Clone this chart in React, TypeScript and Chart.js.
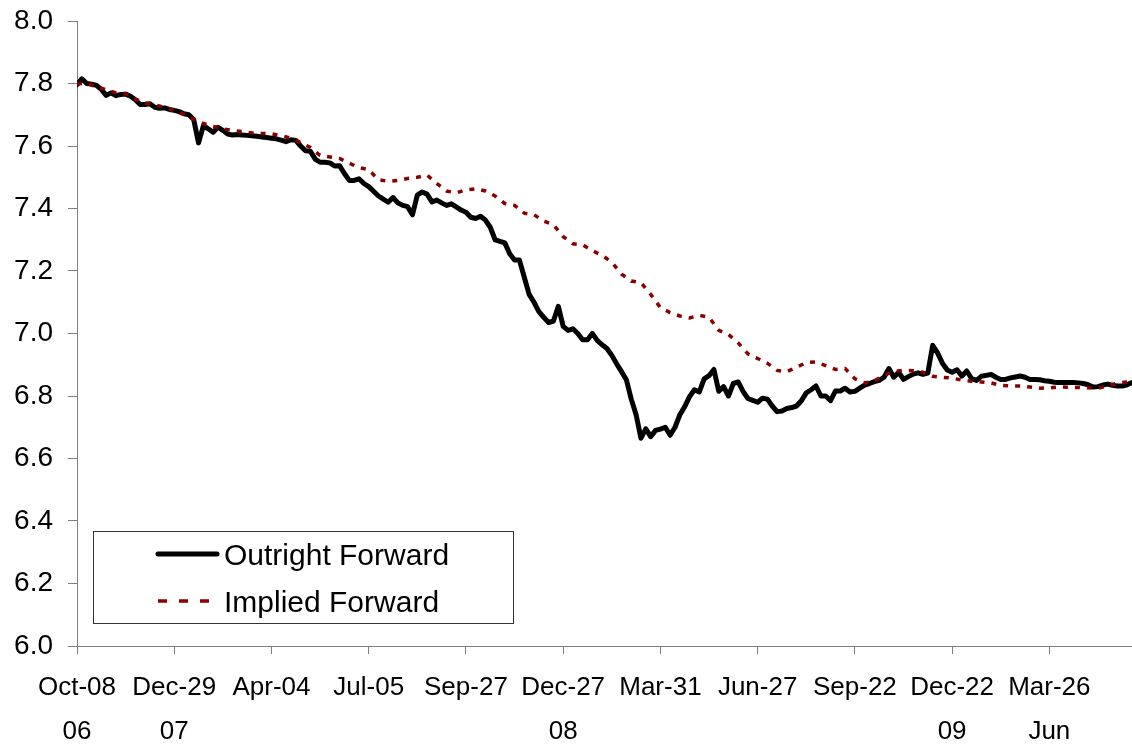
import React, { useEffect, useRef } from 'react';
import { Chart, registerables } from 'chart.js';

Chart.register(...registerables);

// Trading-day index spacing of the sampled values
const OUTRIGHT_STEP = 3;
const IMPLIED_STEP = 6;
const LAST_DAY = 651;

const tickDays = [0, 60, 120, 180, 240, 300, 360, 420, 480, 540, 600];
const tickDates = ['Oct-08', 'Dec-29', 'Apr-04', 'Jul-05', 'Sep-27', 'Dec-27', 'Mar-31', 'Jun-27', 'Sep-22', 'Dec-22', 'Mar-26'];
const tickYears = ['06', '07', '', '', '', '08', '', '', '', '09', 'Jun'];

const seriesNames = ['Outright Forward', 'Implied Forward'];

const outright = [
  7.796, 7.815, 7.800, 7.798, 7.794, 7.781, 7.762, 7.770, 7.761, 7.765,
  7.766, 7.759, 7.748, 7.733, 7.733, 7.735, 7.724, 7.721, 7.722, 7.717,
  7.714, 7.710, 7.703, 7.700, 7.685, 7.610, 7.665, 7.655, 7.644, 7.660,
  7.650, 7.638, 7.635, 7.637, 7.635, 7.634, 7.633, 7.631, 7.629, 7.627,
  7.625, 7.623, 7.619, 7.614, 7.620, 7.618, 7.600, 7.585, 7.583, 7.558,
  7.548, 7.548, 7.546, 7.536, 7.537, 7.512, 7.490, 7.490, 7.495, 7.480,
  7.470, 7.455, 7.440, 7.430, 7.420, 7.435, 7.418, 7.410, 7.406, 7.380,
  7.443, 7.453, 7.446, 7.421, 7.427, 7.418, 7.410, 7.415, 7.405, 7.395,
  7.388, 7.372, 7.368, 7.375, 7.363, 7.340, 7.300, 7.295, 7.290, 7.255,
  7.235, 7.235, 7.180, 7.125, 7.100, 7.070, 7.052, 7.035, 7.040, 7.087,
  7.023, 7.010, 7.015, 7.000, 6.980, 6.980, 7.000, 6.978, 6.964, 6.952,
  6.930, 6.903, 6.878, 6.852, 6.790, 6.740, 6.665, 6.695, 6.670, 6.690,
  6.694, 6.700, 6.675, 6.700, 6.740, 6.766, 6.798, 6.820, 6.813, 6.855,
  6.865, 6.885, 6.815, 6.830, 6.800, 6.840, 6.845, 6.815, 6.792, 6.786,
  6.780, 6.793, 6.790, 6.768, 6.750, 6.752, 6.760, 6.763, 6.768, 6.785,
  6.810, 6.820, 6.832, 6.800, 6.800, 6.785, 6.816, 6.816, 6.825, 6.813,
  6.815, 6.825, 6.835, 6.840, 6.846, 6.850, 6.860, 6.888, 6.860, 6.876,
  6.853, 6.862, 6.870, 6.874, 6.869, 6.873, 6.962, 6.938, 6.905, 6.883,
  6.876, 6.884, 6.864, 6.880, 6.856, 6.850, 6.863, 6.866, 6.869, 6.860,
  6.853, 6.853, 6.858, 6.861, 6.864, 6.860, 6.853, 6.853, 6.852, 6.849,
  6.847, 6.844, 6.843, 6.843, 6.843, 6.843, 6.842, 6.840, 6.836, 6.829,
  6.830, 6.835, 6.838, 6.834, 6.832, 6.832, 6.836, 6.843,
];

const implied = [
  7.800, 7.800, 7.790, 7.780, 7.770, 7.767, 7.750, 7.738, 7.732, 7.724,
  7.714, 7.702, 7.685, 7.672, 7.663, 7.655, 7.650, 7.646, 7.642, 7.640,
  7.639, 7.633, 7.625, 7.611, 7.595, 7.570, 7.565, 7.560, 7.545, 7.531,
  7.524, 7.492, 7.487, 7.490, 7.496, 7.500, 7.507, 7.480, 7.456, 7.450,
  7.460, 7.463, 7.456, 7.440, 7.416, 7.410, 7.385, 7.380, 7.360, 7.348,
  7.310, 7.287, 7.284, 7.265, 7.250, 7.228, 7.190, 7.168, 7.163, 7.125,
  7.083, 7.067, 7.056, 7.050, 7.058, 7.052, 7.010, 6.997, 6.970, 6.935,
  6.920, 6.905, 6.882, 6.878, 6.892, 6.907, 6.909, 6.897, 6.885, 6.888,
  6.855, 6.842, 6.848, 6.867, 6.878, 6.882, 6.881, 6.876, 6.863, 6.860,
  6.857, 6.851, 6.847, 6.845, 6.842, 6.834, 6.832, 6.832, 6.829, 6.825,
  6.826, 6.829, 6.828, 6.827, 6.826, 6.825, 6.833, 6.841, 6.845,
];

const FONT = "'Liberation Sans', Arial, sans-serif";
const AXIS_COLOR = '#7f7f7f';
const OUTRIGHT_COLOR = '#000000';
const IMPLIED_COLOR = '#880000';

const boxLegend = {
  id: 'boxLegend',
  afterDraw(chart: any) {
    const ctx = chart.ctx;
    const a = chart.chartArea;
    const x0 = a.left + 16;
    const y0 = a.bottom - 115;
    const w = 420;
    const h = 92;
    ctx.save();
    ctx.fillStyle = '#ffffff';
    ctx.fillRect(x0, y0, w, h);
    ctx.strokeStyle = '#333333';
    ctx.lineWidth = 1;
    ctx.strokeRect(x0 + 0.5, y0 + 0.5, w, h);
    const rows = [
      { y: y0 + 23, color: OUTRIGHT_COLOR, width: 5, dash: [] as number[] },
      { y: y0 + 70, color: IMPLIED_COLOR, width: 3.5, dash: [9, 12] },
    ];
    rows.forEach((r, i) => {
      ctx.beginPath();
      ctx.setLineDash(r.dash);
      ctx.lineCap = i === 0 ? 'round' : 'butt';
      ctx.strokeStyle = r.color;
      ctx.lineWidth = r.width;
      ctx.moveTo(x0 + 65, r.y);
      ctx.lineTo(x0 + 124, r.y);
      ctx.stroke();
      ctx.setLineDash([]);
      ctx.fillStyle = '#000000';
      ctx.font = `30px ${FONT}`;
      ctx.textBaseline = 'middle';
      ctx.textAlign = 'left';
      ctx.fillText(seriesNames[i], x0 + 131, r.y + 3);
    });
    ctx.restore();
  },
};

export default function App() {
  const ref = useRef<HTMLCanvasElement | null>(null);

  useEffect(() => {
    document.body.style.margin = '0';
    const canvas = ref.current;
    if (!canvas) return;
    const chart = new Chart(canvas, {
      type: 'line',
      data: {
        datasets: [
          {
            label: seriesNames[0],
            data: outright.map((v, i) => ({ x: i * OUTRIGHT_STEP, y: v })),
            borderColor: OUTRIGHT_COLOR,
            borderWidth: 5,
            pointRadius: 0,
            tension: 0,
            borderJoinStyle: 'round',
            borderCapStyle: 'round',
            order: 1,
          },
          {
            label: seriesNames[1],
            data: implied.map((v, i) => ({ x: i * IMPLIED_STEP, y: v })),
            borderColor: IMPLIED_COLOR,
            borderWidth: 3.5,
            borderDash: [5, 7],
            pointRadius: 0,
            tension: 0,
            order: 0,
          },
        ],
      },
      options: {
        responsive: false,
        animation: false,
        layout: { padding: { top: 21, left: 0, right: 0, bottom: 0 } },
        plugins: {
          legend: { display: false },
          tooltip: { enabled: false },
        },
        scales: {
          x: {
            type: 'linear',
            min: 0,
            max: LAST_DAY,
            afterFit: (s: any) => { s.height = 101; s.paddingLeft = 0; s.paddingRight = 0; },
            afterBuildTicks: (s: any) => { s.ticks = tickDays.map((v) => ({ value: v })); },
            grid: { display: true, drawOnChartArea: false, drawTicks: true, tickLength: 8, color: AXIS_COLOR, lineWidth: 1 },
            border: { display: true, color: AXIS_COLOR, width: 1 },
            ticks: {
              autoSkip: false,
              maxRotation: 0,
              padding: 12,
              color: '#000000',
              font: { family: FONT, size: 26, lineHeight: 1.69 },
              callback: (value: any) => {
                const i = tickDays.indexOf(Number(value));
                return i < 0 ? '' : [tickDates[i], tickYears[i]];
              },
            },
          },
          y: {
            min: 6.0,
            max: 8.0,
            afterFit: (s: any) => { s.width = 77; s.paddingTop = 0; s.paddingBottom = 0; },
            grid: { display: true, drawOnChartArea: false, drawTicks: true, tickLength: 9, color: AXIS_COLOR, lineWidth: 1 },
            border: { display: true, color: AXIS_COLOR, width: 1 },
            ticks: {
              stepSize: 0.2,
              padding: 15,
              color: '#000000',
              font: { family: FONT, size: 28 },
              callback: (value: any) => Number(value).toFixed(1),
            },
          },
        },
      },
      plugins: [boxLegend],
    });
    return () => chart.destroy();
  }, []);

  return (
    <div style={{ width: 1132, height: 747 }}>
      <canvas ref={ref} width={1132} height={747} style={{ display: 'block' }} />
    </div>
  );
}
